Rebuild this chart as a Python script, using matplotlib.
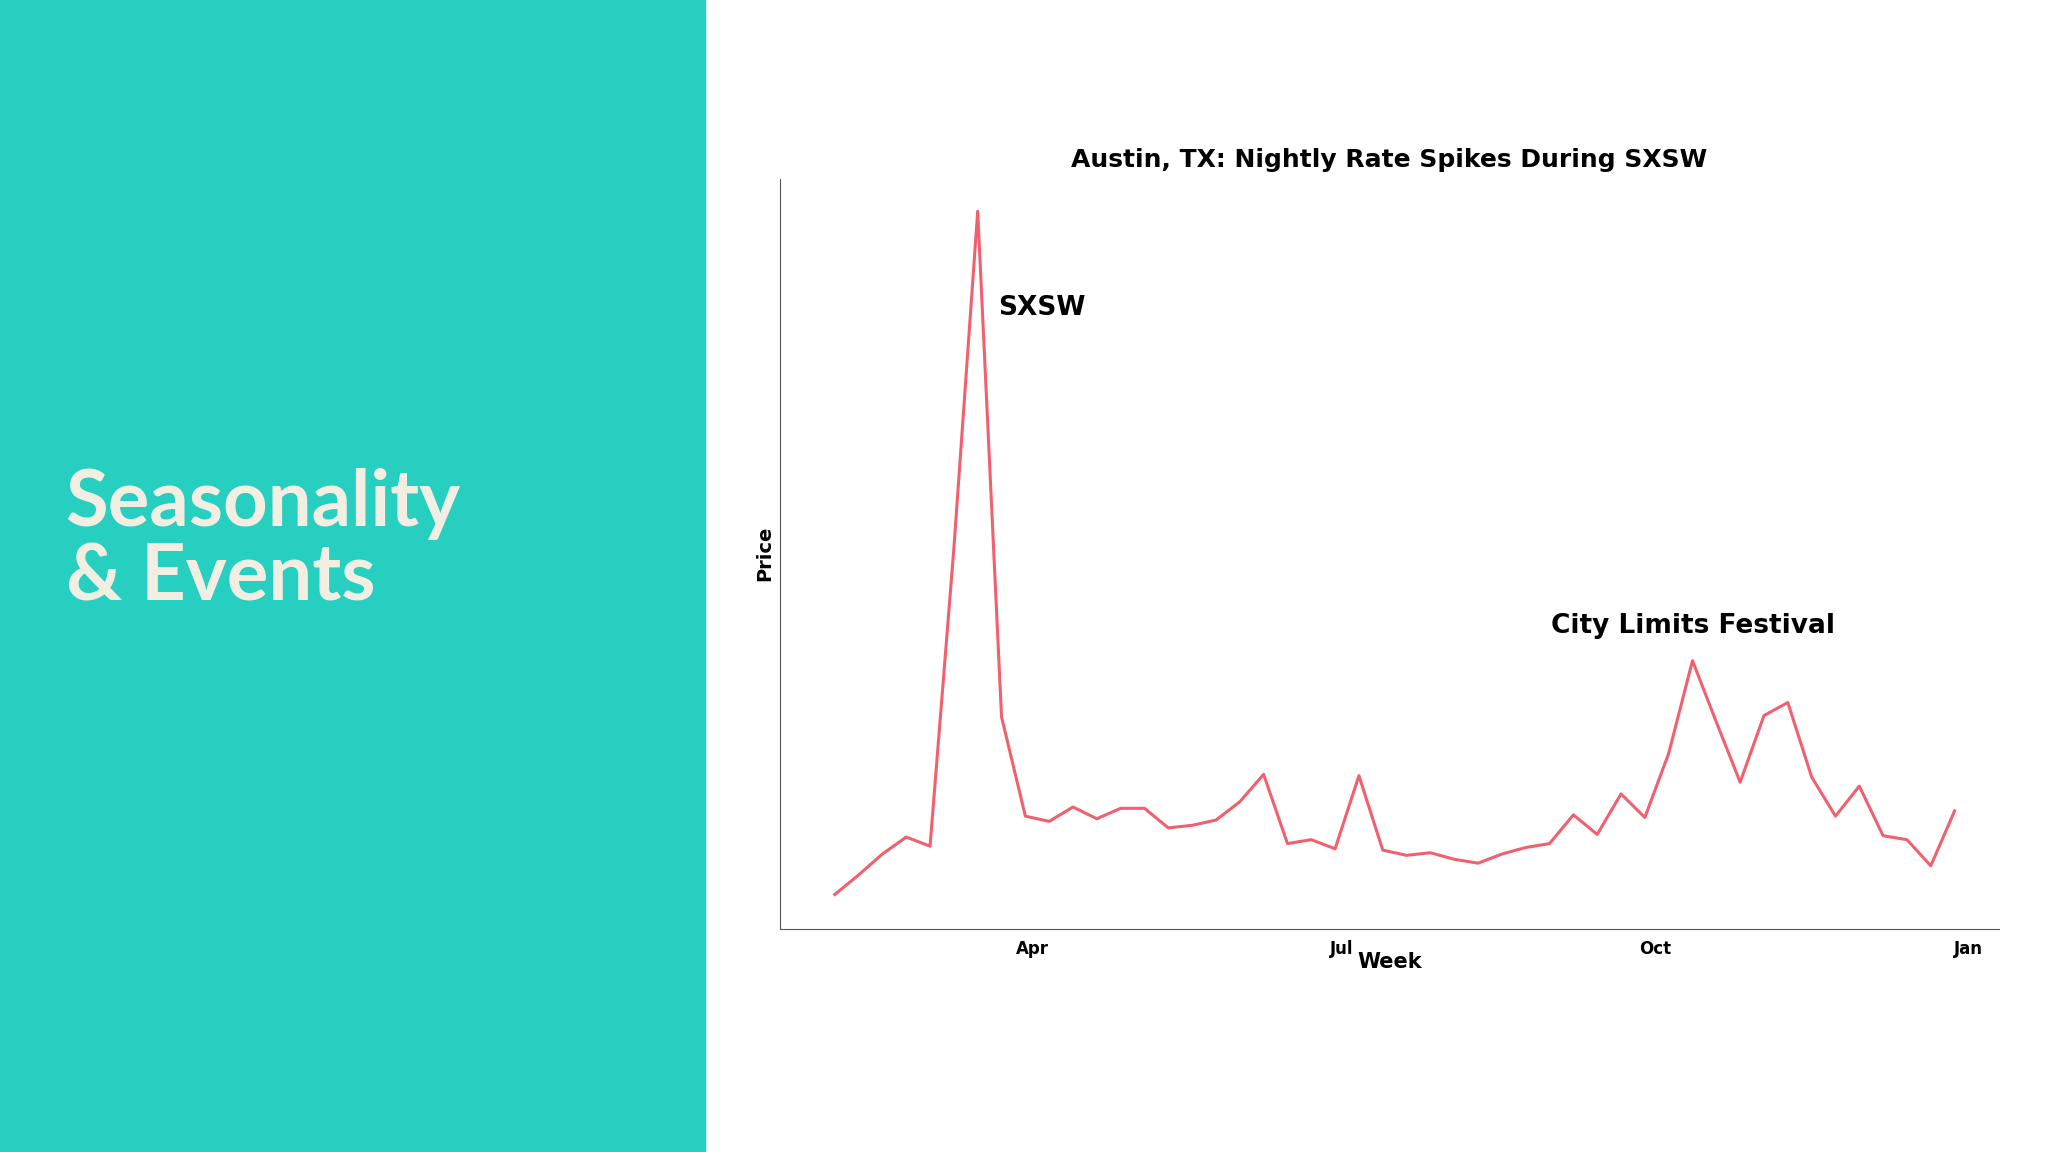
import matplotlib
matplotlib.use("Agg")
import matplotlib.pyplot as plt
import matplotlib.dates as mdates
import numpy as np
import pandas as pd

weeks = pd.date_range("2019-02-02", periods=48, freq="7D")
price = [26, 41, 57, 70, 63, 291, 549, 162, 86, 82, 93, 84, 92, 92, 77, 79, 83, 97, 118, 65,
         68, 61, 117, 60, 56, 58, 53, 50, 57, 62, 65, 87, 72, 103, 85, 134, 205, 158, 112, 163,
         173, 116, 86, 109, 71, 68, 48, 90]

fig = plt.figure(figsize=(20.48, 11.52), dpi=100)
fig.patch.set_facecolor("white")
fig.patches.append(plt.Rectangle((0, 0), 0.344, 1, transform=fig.transFigure, color="#26CFC0", zorder=0))
fig.text(0.032, 0.53, "Seasonality\n& Events", color="#F2EEE2", fontsize=56, fontweight="bold",
         family="Lato", va="center", linespacing=1.05)

ax = fig.add_axes([0.381, 0.194, 0.595, 0.651])
ax.plot(weeks, price, color="#F0606E", lw=2.2)
ax.set_xlim(pd.Timestamp("2019-01-17"), pd.Timestamp("2020-01-10"))
ax.set_ylim(0, 574)
for s in ["top", "right"]:
    ax.spines[s].set_visible(False)
for s in ["left", "bottom"]:
    ax.spines[s].set_color("#555555")
ax.set_yticks([])
ax.xaxis.set_major_locator(mdates.MonthLocator(bymonth=[1, 4, 7, 10]))
ax.xaxis.set_major_formatter(mdates.DateFormatter("%b"))
ax.tick_params(axis="x", length=0, pad=8, labelsize=12)
for t in ax.get_xticklabels():
    t.set_fontweight("bold")
ax.set_xlabel("Week", fontsize=15, fontweight="bold", labelpad=-4)
ax.set_ylabel("Price", fontsize=14, fontweight="bold")
ax.set_title("Austin, TX: Nightly Rate Spikes During SXSW", fontsize=18, fontweight="bold", pad=8)
ax.annotate("SXSW", (weeks[6], price[6]), xytext=(15, -75), textcoords="offset points",
            fontsize=19, fontweight="bold")
ax.annotate("City Limits Festival", (weeks[36], price[36]), xytext=(0, 20), textcoords="offset points",
            fontsize=19, fontweight="bold", ha="center")
fig.savefig("out.png", dpi=100)
